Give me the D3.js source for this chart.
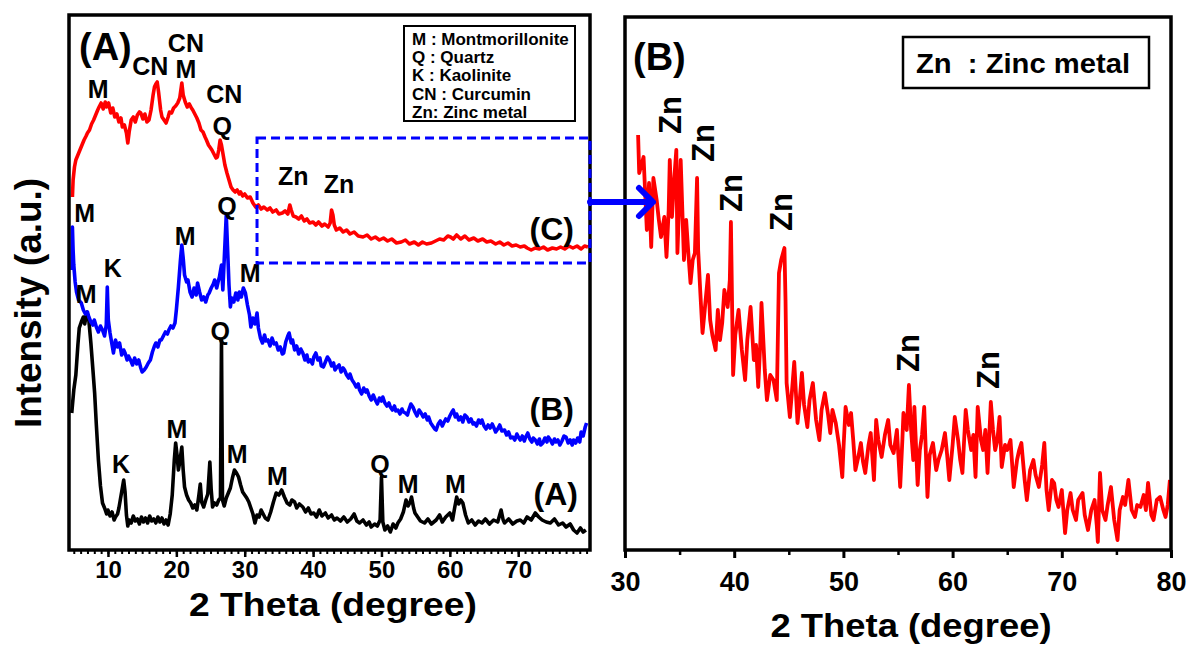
<!DOCTYPE html>
<html>
<head>
<meta charset="utf-8">
<script src="https://cdn.jsdelivr.net/npm/d3@7"></script>
<style>
  body { margin: 0; background: #fff; }
  text { font-family: "Liberation Sans", Arial, sans-serif; font-weight: bold; }
</style>
</head>
<body>
<div id="container"></div>
<script>
// diffractogrammes lus à l'oeil sur l'image: [2 theta, intensité (u.a.)]
const sampleA = [
  [4.7,137],[5.0,160],[5.3,175],[5.6,205],[5.8,222],[6.1,228],[6.4,233],[6.6,226],[6.9,238],[7.2,230],[7.5,207],[7.8,180],
  [8.05,157],[8.3,125],[8.6,90],[8.9,64],[9.2,47],[9.5,42],[9.8,36],[10,40],[10.3,34],[10.6,38],[10.9,30],[11.1,33],
  [11.4,36],[11.6,42],[11.8,50],[12.1,62],[12.3,70],[12.5,58],[12.7,35],[12.9,24],[13.1,30],[13.4,27],[13.7,34],[14.0,29],
  [14.3,31],[14.6,26],[14.9,33],[15.2,28],[15.5,32],[15.8,27],[16.1,34],[16.4,29],[16.7,31],[17.0,27],[17.3,33],[17.6,28],
  [17.9,32],[18.2,26],[18.5,30],[18.8,25],[19.1,36],[19.4,55],[19.7,90],[19.9,107],[20.1,95],[20.3,80],[20.5,88],[20.8,103],
  [21.0,80],[21.2,63],[21.5,55],[21.8,50],[22.1,47],[22.4,42],[22.7,45],[23.0,40],[23.3,55],[23.5,66],[23.7,48],[24.0,43],
  [24.3,50],[24.6,56],[24.9,88],[25.1,60],[25.3,43],[25.6,47],[25.9,45],[26.2,50],[26.45,52],[26.6,210],[26.75,50],[27.0,44],
  [27.3,52],[27.6,57],[27.9,62],[28.2,72],[28.5,80],[28.8,77],[29.1,73],[29.4,65],[29.7,58],[30.0,55],[30.3,52],[30.6,48],
  [30.9,42],[31.2,36],[31.5,27],[31.8,35],[32.1,33],[32.4,40],[32.7,36],[33.0,32],[33.4,30],[33.8,38],[34.2,48],[34.6,57],
  [35.0,55],[35.4,60],[35.8,53],[36.2,47],[36.6,45],[36.9,50],[37.3,48],[37.6,42],[38.0,46],[38.5,43],[38.9,38],[39.3,42],
  [39.7,36],[40.1,37],[40.5,33],[40.9,40],[41.3,34],[41.8,37],[42.2,32],[42.7,35],[43.1,30],[43.5,32],[44.0,29],[44.5,33],
  [45.0,28],[45.5,31],[46.0,36],[46.4,29],[46.8,27],[47.3,30],[47.8,25],[48.2,28],[48.5,23],[49.0,26],[49.4,24],[49.8,30],
  [50.0,73],[50.2,28],[50.5,20],[50.9,24],[51.3,18],[51.7,26],[52.1,22],[52.4,27],[52.8,31],[53.2,38],[53.6,50],[53.9,44],
  [54.2,48],[54.4,53],[54.7,42],[54.9,37],[55.3,33],[55.7,29],[56.3,27],[56.8,31],[57.3,26],[58.0,30],[58.5,35],[58.9,28],
  [59.4,33],[60.0,37],[60.4,30],[60.7,42],[61.0,53],[61.3,46],[61.6,50],[61.9,47],[62.3,35],[62.7,27],[63.2,30],[63.7,25],
  [64.2,29],[64.7,27],[65.2,31],[65.8,26],[66.4,30],[67.0,28],[67.5,40],[67.8,30],[68.0,27],[68.6,31],[69.2,26],[69.8,29],
  [70.3,30],[70.8,27],[71.3,33],[71.9,30],[72.5,37],[73.0,33],[73.5,30],[74.1,28],[74.7,27],[75.3,31],[75.9,25],[76.5,27],
  [77.0,23],[77.6,26],[78.1,20],[78.6,17],[79.1,22],[79.5,18],[79.9,20]
];

const sampleB = [
  [4.75,280],[4.8,323],[4.9,300],[5.0,285],[5.2,268],[5.4,258],[5.7,250],[6.1,247],[6.4,240],[6.7,236],[7.0,238],[7.2,233],
  [7.5,228],[7.8,225],[8.0,230],[8.3,223],[8.6,218],[8.9,224],[9.2,220],[9.5,214],[9.75,225],[9.9,263],[10.05,230],[10.3,217],
  [10.6,205],[10.8,197],[11.1,210],[11.4,203],[11.7,207],[12.0,195],[12.3,200],[12.5,197],[12.8,190],[13.0,194],[13.3,190],
  [13.6,185],[13.9,192],[14.2,186],[14.5,190],[14.8,182],[15.0,178],[15.3,180],[15.6,183],[15.9,187],[16.2,190],[16.5,198],
  [16.8,204],[17.0,207],[17.3,203],[17.6,210],[17.8,210],[18.1,214],[18.4,218],[18.7,216],[18.9,220],[19.2,224],[19.5,222],
  [19.8,227],[20.0,240],[20.3,263],[20.6,290],[20.8,305],[21.0,292],[21.2,275],[21.5,268],[21.7,270],[22.0,258],[22.3,253],
  [22.6,262],[22.9,255],[23.1,267],[23.4,258],[23.7,250],[24.0,253],[24.3,248],[24.6,255],[24.8,257],[25.1,262],[25.4,266],
  [25.6,270],[25.9,262],[26.1,268],[26.3,273],[26.6,285],[26.8,260],[27.0,290],[27.3,335],[27.5,300],[27.7,265],[27.9,243],
  [28.1,252],[28.4,248],[28.7,257],[29.0,250],[29.2,258],[29.5,253],[29.8,262],[30.1,257],[30.4,245],[30.7,235],[30.9,223],
  [31.2,232],[31.5,226],[31.8,237],[32.0,222],[32.3,212],[32.6,207],[32.9,215],[33.1,209],[33.4,210],[33.7,204],[34.0,212],
  [34.3,206],[34.6,207],[34.9,200],[35.2,203],[35.5,196],[35.7,197],[36.0,208],[36.3,214],[36.5,217],[36.8,207],[37.0,210],
  [37.3,200],[37.6,204],[37.9,196],[38.2,201],[38.5,197],[38.8,190],[39.1,195],[39.3,188],[39.6,190],[39.9,186],[40.1,193],
  [40.4,197],[40.7,190],[41.0,192],[41.2,184],[41.5,183],[41.8,188],[42.1,193],[42.4,190],[42.7,184],[43.0,187],[43.2,180],
  [43.5,183],[43.8,185],[44.1,178],[44.4,182],[44.6,180],[44.9,175],[45.2,172],[45.4,176],[45.7,170],[46.0,167],[46.3,163],
  [46.6,166],[46.8,160],[47.1,156],[47.4,162],[47.7,158],[47.9,160],[48.2,154],[48.5,150],[48.8,155],[49.1,150],[49.4,146],
  [49.7,152],[50.0,149],[50.2,153],[50.5,147],[50.8,144],[51.1,147],[51.3,143],[51.6,140],[51.9,144],[52.1,139],[52.4,140],
  [52.7,136],[53.0,141],[53.2,138],[53.5,137],[53.8,135],[54.0,140],[54.3,146],[54.6,143],[54.9,138],[55.2,134],[55.5,140],
  [55.8,137],[56.1,133],[56.4,136],[56.7,130],[56.9,133],[57.2,127],[57.5,124],[57.8,121],[58.0,120],[58.3,126],[58.6,129],
  [58.9,124],[59.1,127],[59.4,131],[59.7,129],[60.0,134],[60.3,138],[60.5,140],[60.8,133],[61.0,136],[61.3,130],[61.6,133],
  [61.9,128],[62.2,135],[62.5,133],[62.8,128],[63.1,131],[63.4,126],[63.6,127],[63.9,124],[64.2,130],[64.5,127],[64.7,130],
  [65.0,124],[65.3,121],[65.6,125],[65.9,122],[66.2,126],[66.4,123],[66.7,118],[67.0,121],[67.3,125],[67.6,119],[68.0,120],
  [68.3,115],[68.6,118],[68.9,112],[69.2,113],[69.5,110],[69.8,116],[70.1,112],[70.3,110],[70.6,114],[70.9,109],[71.1,113],
  [71.4,117],[71.7,111],[72.0,108],[72.2,112],[72.5,110],[72.8,106],[73.1,111],[73.3,105],[73.6,107],[73.9,112],[74.2,108],
  [74.4,113],[74.7,110],[75.0,106],[75.3,111],[75.5,108],[75.8,110],[76.1,105],[76.4,109],[76.7,114],[77.0,113],[77.3,107],
  [77.6,110],[77.9,105],[78.1,110],[78.4,107],[78.7,112],[79.0,108],[79.2,118],[79.5,114],[79.8,123],[80.0,127]
];

const sampleC = [
  [4.8,353],[4.9,370],[5.1,383],[5.3,390],[5.6,395],[5.9,400],[6.2,405],[6.5,410],[6.8,414],[7.0,417],[7.3,420],[7.6,426],
  [7.9,430],[8.2,435],[8.5,440],[8.7,443],[9.0,447],[9.3,441],[9.6,448],[9.8,443],[10.1,447],[10.4,437],[10.7,442],[11.0,433],
  [11.3,436],[11.6,428],[11.9,432],[12.1,423],[12.4,425],[12.7,417],[12.9,407],[13.1,418],[13.4,430],[13.7,433],[14.0,428],
  [14.3,435],[14.6,438],[14.8,437],[15.1,431],[15.4,436],[15.7,428],[16.0,430],[16.3,440],[16.6,455],[16.8,463],[17.0,466],
  [17.2,468],[17.4,458],[17.7,440],[17.9,433],[18.2,430],[18.5,427],[18.8,433],[19.0,438],[19.3,437],[19.6,442],[19.9,444],
  [20.2,447],[20.5,452],[20.7,462],[20.8,467],[21.0,455],[21.3,448],[21.6,443],[21.9,446],[22.2,442],[22.4,440],[22.7,436],
  [23.0,432],[23.3,427],[23.6,420],[23.9,418],[24.2,413],[24.4,410],[24.7,405],[25.0,402],[25.2,400],[25.5,396],[25.8,392],
  [26.0,393],[26.2,400],[26.4,410],[26.6,405],[26.9,393],[27.1,385],[27.4,377],[27.7,370],[28.0,363],[28.3,360],[28.6,358],
  [28.9,360],[29.2,356],[29.4,358],[29.7,354],[30.0,356],[30.4,352],[30.8,353],[31.2,347],[31.6,343],[32.0,345],[32.4,341],
  [32.8,343],[33.3,340],[33.7,342],[34.1,338],[34.6,340],[35.0,336],[35.5,337],[35.9,339],[36.3,336],[36.6,345],[36.8,340],
  [37.1,334],[37.5,333],[37.9,331],[38.3,334],[38.7,329],[39.1,331],[39.5,327],[40.0,328],[40.4,325],[40.8,328],[41.3,324],
  [41.7,326],[42.2,323],[42.5,327],[42.7,340],[42.9,335],[43.1,325],[43.4,320],[43.9,322],[44.4,318],[44.9,320],[45.4,316],
  [46.0,318],[46.6,314],[47.3,313],[47.9,315],[48.5,311],[49.1,313],[49.7,310],[50.3,312],[50.9,309],[51.5,311],[52.2,307],
  [52.9,308],[53.5,310],[54.1,306],[54.8,308],[55.4,305],[56.0,308],[56.6,306],[57.3,307],[57.9,309],[58.5,311],[59.1,310],
  [59.7,314],[60.1,313],[60.5,311],[61.0,315],[61.6,311],[62.2,314],[62.8,310],[63.5,312],[64.1,309],[64.8,311],[65.4,308],
  [66.0,309],[66.7,306],[67.3,308],[67.9,305],[68.5,307],[69.1,304],[69.7,305],[70.3,303],[70.9,304],[71.3,302],[71.9,300],
  [72.5,302],[73.1,301],[73.7,303],[74.3,300],[75.0,302],[75.6,301],[76.2,303],[76.8,301],[77.4,304],[78.0,302],[78.6,304],
  [79.2,301],[79.7,304],[80.2,303]
];

// zoom de (C) entre 30 et 80 degrés
const zoomC = [
  [31.2,415],[31.3,377],[31.5,385],[31.7,393],[32.0,320],[32.2,367],[32.4,303],[32.6,372],[32.9,350],[33.1,330],[33.3,313],
  [33.6,333],[33.8,293],[34.0,340],[34.1,390],[34.3,333],[34.5,370],[34.7,400],[34.8,297],[35.1,390],[35.4,290],[35.6,330],
  [35.8,297],[36.0,267],[36.2,290],[36.4,297],[36.6,372],[36.7,300],[36.9,257],[37.1,217],[37.3,240],[37.6,275],[37.8,230],
  [38.0,215],[38.3,200],[38.5,240],[38.7,210],[38.9,227],[39.1,260],[39.4,243],[39.6,270],[39.7,328],[39.8,250],[39.9,175],
  [40.1,215],[40.4,240],[40.7,200],[41.0,170],[41.2,210],[41.5,243],[41.8,190],[42.0,205],[42.2,163],[42.4,210],[42.5,247],
  [42.8,180],[43.0,150],[43.3,175],[43.6,170],[43.9,150],[44.1,277],[44.3,290],[44.6,302],[44.7,250],[44.8,167],[45.1,133],
  [45.3,160],[45.5,188],[45.8,127],[46.0,150],[46.2,177],[46.4,145],[46.7,123],[46.9,150],[47.2,167],[47.5,130],[47.8,110],
  [48.0,140],[48.3,157],[48.6,135],[48.8,117],[49.0,140],[49.3,127],[49.6,105],[49.9,73],[50.0,100],[50.2,143],[50.5,125],
  [50.7,137],[50.9,110],[51.1,80],[51.4,95],[51.6,107],[51.8,88],[52.0,77],[52.3,105],[52.5,117],[52.8,70],[53.0,130],
  [53.2,110],[53.5,93],[53.8,115],[54.1,130],[54.3,105],[54.6,97],[54.9,120],[55.2,63],[55.4,110],[55.5,137],[55.8,120],
  [56.0,165],[56.2,120],[56.4,90],[56.5,143],[56.8,65],[57.0,100],[57.2,115],[57.4,143],[57.7,53],[57.9,95],[58.2,107],
  [58.5,80],[58.7,90],[59.0,100],[59.3,117],[59.5,95],[59.7,70],[60.0,105],[60.2,133],[60.5,110],[60.7,90],[60.9,77],
  [61.2,140],[61.4,120],[61.7,100],[61.9,115],[62.1,73],[62.3,143],[62.6,110],[62.8,100],[63.0,120],[63.2,77],[63.5,148],
  [63.7,120],[63.9,100],[64.1,110],[64.3,133],[64.5,83],[64.8,105],[65.0,100],[65.3,110],[65.6,63],[65.9,90],[66.1,100],
  [66.3,107],[66.6,70],[66.8,50],[67.1,80],[67.4,90],[67.6,75],[67.9,63],[68.2,85],[68.4,107],[68.6,60],[68.8,40],
  [69.1,70],[69.3,67],[69.5,50],[69.7,43],[70.0,60],[70.3,17],[70.5,40],[70.8,57],[71.0,40],[71.3,30],[71.5,50],[71.9,57],
  [72.1,35],[72.4,20],[72.7,40],[73.0,50],[73.2,25],[73.3,8],[73.5,77],[73.7,40],[74.0,30],[74.2,45],[74.5,63],[74.8,30],
  [75.1,10],[75.3,40],[75.6,53],[75.8,45],[76.1,70],[76.4,40],[76.7,33],[76.9,45],[77.2,43],[77.5,55],[77.7,40],[77.9,67],
  [78.2,35],[78.4,30],[78.7,50],[79.0,53],[79.3,40],[79.5,33],[79.7,45],[79.9,70]
];

// étiquettes des pics: [texte, 2 theta, intensité]
const peaksLeft = [
  ["M",8.55,452],["CN",16.2,475],["CN",21.4,498],["M",21.4,472],["CN",27.0,447],["Q",26.7,415],
  ["Zn",37.1,365],["Zn",43.8,357],
  ["M",6.6,328],["Q",27.4,335],["M",21.3,305],["K",10.7,273],["M",30.8,268],
  ["M",6.8,247],["Q",26.4,210],["M",20.1,112],["K",11.9,77],["M",28.9,87],["M",34.8,65],
  ["Q",49.8,77],["M",53.9,57],["M",60.8,57]
];
const curveNames = [["(C)",74.9,310],["(B)",74.9,130],["(A)",75.5,45]];
const peaksRight = [["Zn",34.1,435],["Zn",37.1,407],["Zn",39.7,357],["Zn",44.3,338],["Zn",55.9,197],["Zn",63.2,180]];

const legendLines = ["M : Montmorillonite", "Q : Quartz", "K : Kaolinite", "CN : Curcumin", "Zn: Zinc metal"];
const ticksLeft = [10, 20, 30, 40, 50, 60, 70];
const ticksRight = [30, 40, 50, 60, 70, 80];

const width = 1189;
const height = 646;

const svg = d3.create("svg")
    .attr("width", width)
    .attr("height", height)
    .attr("viewBox", [0, 0, width, height]);

svg.append("rect").attr("width", width).attr("height", height).attr("fill", "#fff");

// ---------- panneau (A) ----------
const xL = d3.scaleLinear().domain([4.3, 80.5]).range([69, 590]);
const yL = d3.scaleLinear().domain([0, 535]).range([550, 15]);

const lineL = d3.line().x(d => xL(d[0])).y(d => yL(d[1]));

const curves = [[sampleA, "#000"], [sampleB, "#0000ff"], [sampleC, "#ff0000"]];
svg.append("g")
    .selectAll("path")
    .data(curves)
    .join("path")
    .attr("d", d => lineL(d[0]))
    .attr("fill", "none")
    .attr("stroke", d => d[1])
    .attr("stroke-width", 3.6)
    .attr("stroke-linejoin", "round");

// petites graduations tous les degrés
svg.append("g")
    .attr("transform", "translate(0,550)")
    .call(d3.axisBottom(xL).tickValues(d3.range(5, 81)).tickSize(4).tickFormat(""))
    .call(g => g.select(".domain").remove())
    .call(g => g.selectAll("line").attr("stroke-width", 2));

svg.append("g")
    .attr("transform", "translate(0,550)")
    .call(d3.axisBottom(xL).tickValues(ticksLeft).tickSize(7))
    .call(g => g.select(".domain").remove())
    .call(g => g.selectAll("line").attr("stroke-width", 2.5))
    .call(g => g.selectAll("text")
        .attr("y", 11)
        .attr("font-size", 24)
        .attr("font-family", "Liberation Sans, Arial, sans-serif")
        .attr("font-weight", "bold")
        .attr("fill", "#000"));

svg.append("rect")
    .attr("x", xL.range()[0]).attr("y", yL.range()[1])
    .attr("width", xL.range()[1] - xL.range()[0])
    .attr("height", yL.range()[0] - yL.range()[1])
    .attr("fill", "none").attr("stroke", "#000").attr("stroke-width", 3.5);

svg.append("g")
    .selectAll("text")
    .data(peaksLeft)
    .join("text")
    .attr("x", d => xL(d[1]))
    .attr("y", d => yL(d[2]))
    .attr("text-anchor", "middle")
    .attr("font-size", 25)
    .text(d => d[0]);

svg.append("g")
    .selectAll("text")
    .data(curveNames)
    .join("text")
    .attr("x", d => xL(d[1]))
    .attr("y", d => yL(d[2]))
    .attr("text-anchor", "middle")
    .attr("font-size", 32)
    .text(d => d[0]);

svg.append("text").attr("x", 79).attr("y", 60).attr("font-size", 38).text("(A)");

// légende
svg.append("rect")
    .attr("x", 404).attr("y", 26).attr("width", 171).attr("height", 95)
    .attr("fill", "#fff").attr("stroke", "#000").attr("stroke-width", 2);
svg.append("g")
    .selectAll("text")
    .data(legendLines)
    .join("text")
    .attr("x", 412)
    .attr("y", (d, i) => 45 + i * 18.2)
    .attr("font-size", 17)
    .text(d => d);

// cadre pointillé sur la zone agrandie
svg.append("rect")
    .attr("x", xL(31.8)).attr("y", yL(412))
    .attr("width", xL(80.5) - xL(31.8))
    .attr("height", yL(287) - yL(412))
    .attr("fill", "none")
    .attr("stroke", "#0000ff")
    .attr("stroke-width", 3)
    .attr("stroke-dasharray", "9,5");

svg.append("text")
    .attr("x", 333).attr("y", 616)
    .attr("text-anchor", "middle")
    .attr("font-size", 34)
    .attr("textLength", 288).attr("lengthAdjust", "spacingAndGlyphs")
    .text("2 Theta (degree)");

svg.append("text")
    .attr("transform", "translate(41,303) rotate(-90)")
    .attr("text-anchor", "middle")
    .attr("font-size", 36)
    .attr("textLength", 250).attr("lengthAdjust", "spacingAndGlyphs")
    .text("Intensity (a.u.)");

// ---------- panneau (B) ----------
const xR = d3.scaleLinear().domain([30, 80]).range([625, 1171]);
const yR = d3.scaleLinear().domain([0, 533]).range([550, 17]);

const lineR = d3.line().x(d => xR(d[0])).y(d => yR(d[1]));

svg.append("path")
    .attr("d", lineR(zoomC))
    .attr("fill", "none")
    .attr("stroke", "#ff0000")
    .attr("stroke-width", 3.8)
    .attr("stroke-linejoin", "round");

svg.append("g")
    .attr("transform", "translate(0,550)")
    .call(d3.axisBottom(xR).tickValues(d3.range(35, 80, 10)).tickSize(5).tickFormat(""))
    .call(g => g.select(".domain").remove())
    .call(g => g.selectAll("line").attr("stroke-width", 2.5));

svg.append("g")
    .attr("transform", "translate(0,550)")
    .call(d3.axisBottom(xR).tickValues(ticksRight).tickSize(8))
    .call(g => g.select(".domain").remove())
    .call(g => g.selectAll("line").attr("stroke-width", 3))
    .call(g => g.selectAll("text")
        .attr("y", 22)
        .attr("font-size", 27)
        .attr("font-family", "Liberation Sans, Arial, sans-serif")
        .attr("font-weight", "bold")
        .attr("fill", "#000"));

svg.append("rect")
    .attr("x", xR.range()[0]).attr("y", yR.range()[1])
    .attr("width", xR.range()[1] - xR.range()[0])
    .attr("height", yR.range()[0] - yR.range()[1])
    .attr("fill", "none").attr("stroke", "#000").attr("stroke-width", 3.5);

svg.append("g")
    .selectAll("text")
    .data(peaksRight)
    .join("text")
    .attr("transform", d => `translate(${xR(d[1])},${yR(d[2])}) rotate(-90)`)
    .attr("text-anchor", "middle")
    .attr("dy", "0.36em")
    .attr("font-size", 31)
    .text(d => d[0]);

svg.append("text").attr("x", 633).attr("y", 70).attr("font-size", 38).text("(B)");

svg.append("rect")
    .attr("x", 903).attr("y", 37).attr("width", 246).attr("height", 51)
    .attr("fill", "#fff").attr("stroke", "#000").attr("stroke-width", 2.5);
svg.append("text")
    .attr("x", 916).attr("y", 73)
    .attr("font-size", 28)
    .attr("textLength", 214).attr("lengthAdjust", "spacingAndGlyphs")
    .attr("xml:space", "preserve")
    .text("Zn  : Zinc metal");

svg.append("text")
    .attr("x", 911).attr("y", 637)
    .attr("text-anchor", "middle")
    .attr("font-size", 34)
    .attr("textLength", 281).attr("lengthAdjust", "spacingAndGlyphs")
    .text("2 Theta (degree)");

// flèche bleue entre les deux panneaux
svg.append("path")
    .attr("d", "M590,202 L651,202 M639,188 L653,202 L639,216")
    .attr("fill", "none")
    .attr("stroke", "#0000ff")
    .attr("stroke-width", 6)
    .attr("stroke-linecap", "round")
    .attr("stroke-linejoin", "round");

d3.select("#container").node().append(svg.node());
</script>
</body>
</html>
